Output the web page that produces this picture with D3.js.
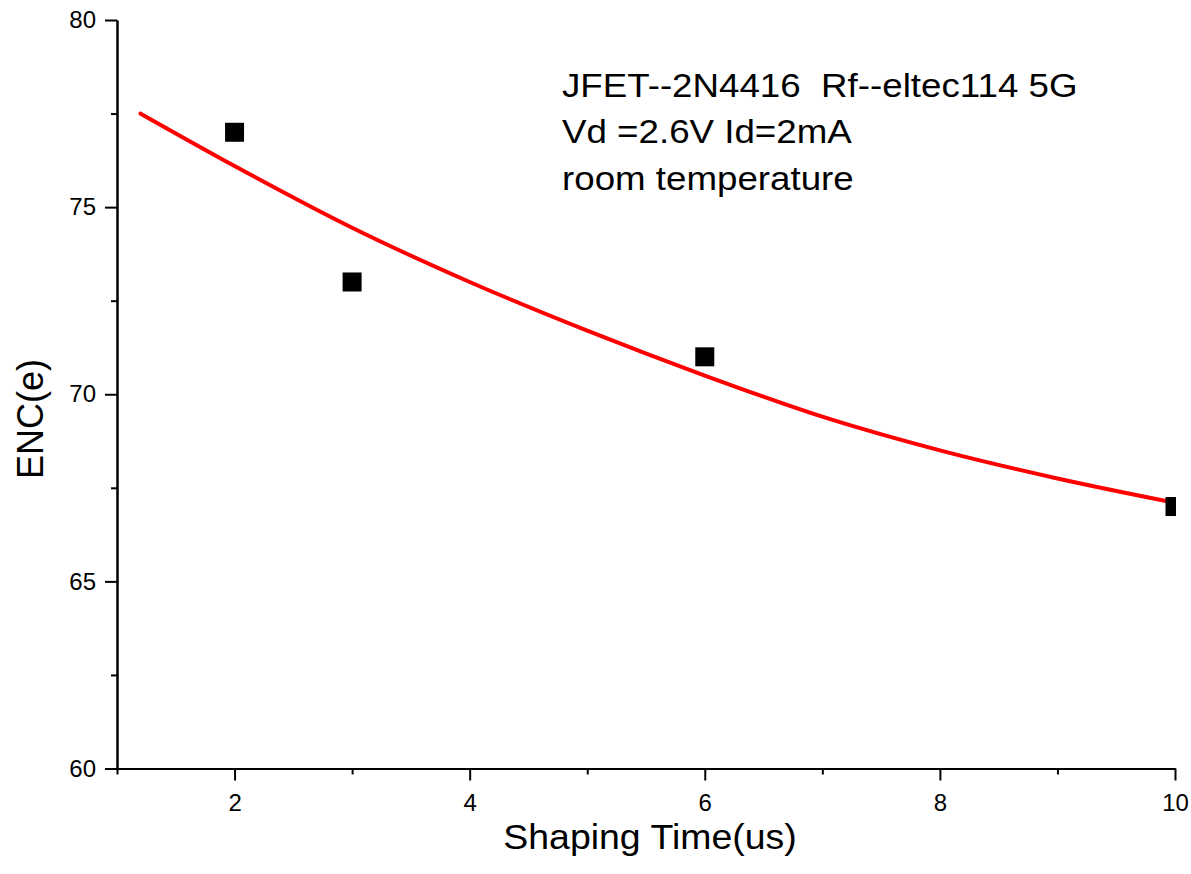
<!DOCTYPE html>
<html>
<head>
<meta charset="utf-8">
<script src="https://cdn.jsdelivr.net/npm/d3@7"></script>
<style>
  html, body { margin: 0; padding: 0; background: #fff; }
  svg { display: block; }
  text { font-family: "Liberation Sans", Arial, sans-serif; fill: #000; }
</style>
</head>
<body>
<svg id="chart" width="1191" height="874"></svg>
<script>
// ---- data ----
const shapingTime = [2, 3, 6, 10];
const encValues = [77, 73, 71, 67];
const fitX = [1.2, 2, 3, 4, 5, 6, 7, 8, 9, 10];
const fitY = [77.5, 76.1, 74.45, 73.0, 71.7, 70.5, 69.4, 68.5, 67.75, 67.1];
const xMajorTicks = [2, 4, 6, 8, 10];
const xMinorTicks = [1, 3, 5, 7, 9];
const yMajorTicks = [60, 65, 70, 75, 80];
const yMinorTicks = [62.5, 67.5, 72.5, 77.5];
const annotation = ["JFET--2N4416  Rf--eltec114 5G", "Vd =2.6V Id=2mA", "room temperature"];
const xTitle = "Shaping Time(us)";
const yTitle = "ENC(e)";

// ---- layout ----
const L = 117, R = 1175, T = 20, B = 768.5;
const svg = d3.select("#chart");
svg.append("rect").attr("width", 1191).attr("height", 874).attr("fill", "#fff");

const x = d3.scaleLinear().domain([1, 10]).range([L, R]);
const y = d3.scaleLinear().domain([60, 80]).range([B, T]);

svg.append("defs").append("clipPath").attr("id", "plotclip")
  .append("rect").attr("x", L).attr("y", T - 20).attr("width", R - L + 1).attr("height", B - T + 20);

// axes
function styleAxis(g) {
  g.select(".domain").attr("stroke", "#000").attr("stroke-width", 2);
  g.selectAll(".tick line").attr("stroke", "#000").attr("stroke-width", 2);
  g.selectAll(".tick text").style("font-size", "24px").style("font-family", '"Liberation Sans", Arial, sans-serif');
}

const xAxisMinor = d3.axisBottom(x).tickValues(xMinorTicks).tickSize(6).tickSizeOuter(0).tickFormat("");
svg.append("g").attr("transform", `translate(0,${B})`).call(xAxisMinor).call(styleAxis);
const xAxis = d3.axisBottom(x).tickValues(xMajorTicks).tickSize(12).tickSizeOuter(0).tickPadding(13).tickFormat(d3.format("d"));
svg.append("g").attr("transform", `translate(0,${B})`).call(xAxis).call(styleAxis);

const yAxisMinor = d3.axisLeft(y).tickValues(yMinorTicks).tickSize(6).tickSizeOuter(0).tickFormat("");
svg.append("g").attr("transform", `translate(${L},0)`).call(yAxisMinor).call(styleAxis);
const yAxis = d3.axisLeft(y).tickValues(yMajorTicks).tickSize(12).tickSizeOuter(0).tickPadding(9).tickFormat(d3.format("d"));
svg.append("g").attr("transform", `translate(${L},0)`).call(yAxis).call(styleAxis);

// plot
const plot = svg.append("g").attr("clip-path", "url(#plotclip)");

const line = d3.line().x(d => x(d[0])).y(d => y(d[1])).curve(d3.curveMonotoneX);
plot.append("path")
  .datum(fitX.map((v, i) => [v, fitY[i]]))
  .attr("d", line)
  .attr("fill", "none")
  .attr("stroke", "#ff0000")
  .attr("stroke-width", 4)
  .attr("stroke-linecap", "round");

const sz = 19;
plot.selectAll("rect.pt")
  .data(shapingTime.map((v, i) => [v, encValues[i]]))
  .enter().append("rect")
  .attr("class", "pt")
  .attr("x", d => x(d[0]) - sz / 2)
  .attr("y", d => y(d[1]) - sz / 2)
  .attr("width", sz).attr("height", sz)
  .attr("fill", "#000");

// annotation
const ann = svg.append("g").attr("transform", "translate(562,97)");
ann.selectAll("text").data(annotation).enter().append("text")
  .attr("x", 0).attr("y", (d, i) => i * 46.5)
  .attr("xml:space", "preserve")
  .style("white-space", "pre")
  .style("font-size", "34px")
  .attr("transform", "scale(1.08,1)")
  .text(d => d);

// axis titles
svg.append("text")
  .attr("transform", "translate(650,849) scale(1.07,1)")
  .attr("text-anchor", "middle")
  .style("font-size", "35px")
  .text(xTitle);

svg.append("text")
  .attr("transform", "translate(43,419) rotate(-90)")
  .attr("text-anchor", "middle")
  .style("font-size", "36px")
  .text(yTitle);
</script>
</body>
</html>
